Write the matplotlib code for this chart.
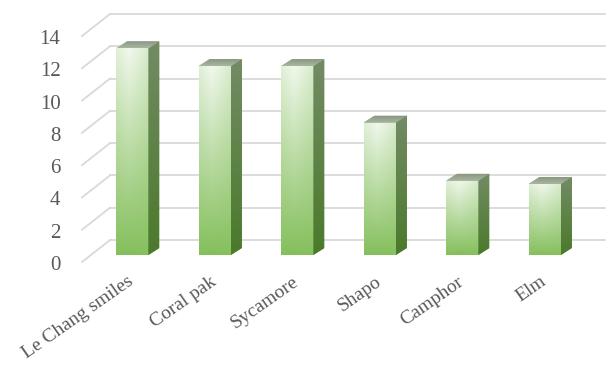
import numpy as np
import matplotlib.pyplot as plt
from matplotlib.patches import Polygon
import matplotlib.transforms as mtransforms
from matplotlib.colors import to_rgb

trees = ['Le Chang smiles', 'Coral pak', 'Sycamore', 'Shapo', 'Camphor', 'Elm']
values = [12.8, 11.7, 11.7, 8.2, 4.6, 4.4]
yticks = [0, 2, 4, 6, 8, 10, 12, 14]

plt.rcParams['font.family'] = ['Liberation Serif', 'DejaVu Serif']
text_col = '#595959'
grid_col = '#d9d9d9'

fig = plt.figure(figsize=(6.08, 3.65), dpi=100)
ax = fig.add_axes([91/608, 1 - 255/365, 495/608, 226/365])
xlim = (-0.5, len(trees) - 0.5)
ylim = (0, 14)
ax.set_xlim(xlim)
ax.set_ylim(ylim)
for s in ax.spines.values():
    s.set_visible(False)

# data units per pixel, to turn the fake 3d depth (in px) into data offsets
ux = (xlim[1] - xlim[0]) / ax.bbox.width
uy = (ylim[1] - ylim[0]) / ax.bbox.height

bar_dx, bar_dy = 11 * ux, 7 * uy      # bar depth
back_dx, back_dy = 19 * ux, 15 * uy   # back wall
left_dx, left_dy = -9 * ux, -7 * uy   # front edge of side wall


def grad(top, bot, n=120, m=40, side_fade=0.0, edge_col=None):
    t = np.linspace(0, 1, n)[:, None, None]
    img = np.array(to_rgb(top)) * (1 - t) + np.array(to_rgb(bot)) * t
    img = np.repeat(img, m, axis=1)
    if side_fade > 0:
        u = np.linspace(0, 1, m)[None, :, None]
        h = np.clip(np.abs(u - 0.4) / 0.6, 0, 1) * side_fade
        img = img * (1 - h) + np.array(to_rgb(edge_col)) * h
    return img


# back wall and side wall grid
for v in yticks:
    ax.plot([xlim[0] + back_dx, xlim[1] + back_dx], [v + back_dy, v + back_dy],
            color=grid_col, lw=1.3, clip_on=False, zorder=1)
    ax.plot([xlim[0] + left_dx, xlim[0] + back_dx], [v + left_dy, v + back_dy],
            color=grid_col, lw=1.3, clip_on=False, zorder=1)

width = 0.39
bars = ax.bar(range(len(trees)), values, width=width, color='#9ccc7c',
              edgecolor='none', zorder=3)

front_img = grad('#f1f8ed', '#84bf5c', side_fade=0.25, edge_col='#8cc466')
side_img = grad('#738b65', '#4a7a2b')
top_img = grad('#8a9882', '#a9b7a1')

for b in bars:
    xl = b.get_x()
    xr = xl + b.get_width()
    h = b.get_height()
    im = ax.imshow(front_img, extent=[xl, xr, 0, h], aspect='auto',
                   origin='upper', zorder=4)
    im.set_clip_path(b)

    side = Polygon([(xr, 0), (xr, h), (xr + bar_dx, h + bar_dy), (xr + bar_dx, bar_dy)],
                   closed=True, facecolor='#5c8040', edgecolor='none', zorder=3)
    ax.add_patch(side)
    im = ax.imshow(side_img, extent=[xr, xr + bar_dx, 0, h + bar_dy], aspect='auto',
                   origin='upper', zorder=4)
    im.set_clip_path(side)

    top = Polygon([(xl, h), (xr, h), (xr + bar_dx, h + bar_dy), (xl + bar_dx, h + bar_dy)],
                  closed=True, facecolor='#95a28e', edgecolor='none', zorder=3)
    ax.add_patch(top)
    im = ax.imshow(top_img, extent=[xl, xr + bar_dx, h, h + bar_dy], aspect='auto',
                   origin='upper', zorder=4)
    im.set_clip_path(top)

ax.set_xlim(xlim)
ax.set_ylim(ylim)

ax.set_yticks(yticks)
ax.set_xticks(range(len(trees)))
ax.set_xticklabels(trees, rotation=35, ha='right', rotation_mode='anchor')
ax.tick_params(axis='y', length=0, pad=22, labelsize=15, labelcolor=text_col)
ax.tick_params(axis='x', length=0, pad=13, labelsize=14, labelcolor=text_col)

for lab in ax.get_yticklabels():
    lab.set_transform(lab.get_transform() +
                      mtransforms.ScaledTranslation(0, -0.08, fig.dpi_scale_trans))
for lab in ax.get_xticklabels():
    lab.set_transform(lab.get_transform() +
                      mtransforms.ScaledTranslation(-0.05, 0, fig.dpi_scale_trans))

fig.savefig('out.png', dpi=100)
